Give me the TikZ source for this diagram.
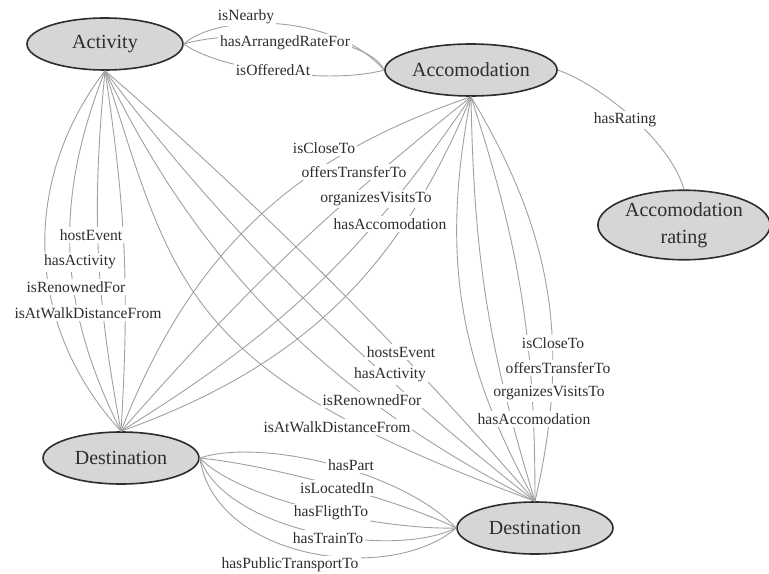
\documentclass[tikz,border=0pt]{standalone}
\usepackage{fontspec}
\setmainfont{Liberation Serif}
\usetikzlibrary{shapes.geometric}
\definecolor{conceptfill}{RGB}{214, 214, 214}
\definecolor{conceptline}{RGB}{45, 45, 45}
\definecolor{relcolor}{RGB}{160, 160, 160}
\definecolor{textcolor}{RGB}{45, 45, 45}
\tikzset{
	concept/.style={shape=ellipse, draw=conceptline, fill=conceptfill, line width=0.8pt, minimum width=78pt, minimum height=26pt, inner sep=1pt, text=textcolor, font=\fontsize{10}{13.5}\selectfont},
	rating/.style={concept, minimum width=85pt, minimum height=33pt, align=center},
	relation/.style={draw=relcolor, line width=0.45pt},
	annotation/.style={fill=white, inner xsep=1pt, inner ysep=1.2pt, text=textcolor, font=\fontsize{7.8}{9}\selectfont}
}

\begin{document}
\begin{tikzpicture}[x=0.5pt, y=-0.5pt]
		\useasboundingbox (0,0) rectangle (769,573);

		% Nodes
		\node (act) [concept] at (105,44) {Activity};
		\node (acc) [concept] at (471,70) {Accomodation};
		\node (rat) [rating] at (684,225) {Accomodation\\rating};
		\node (dstL) [concept] at (121,458) {Destination};
		\node (dstR) [concept] at (535,528) {Destination};

		% Relations
		\draw [relation] (act.east) .. controls (215,15) and (330,10) .. (acc.west);
		\draw [relation] (act.east) .. controls (230,30) and (365,30) .. (acc.west);
		\draw [relation] (act.east) .. controls (220,70) and (330,85) .. (acc.west);

		\draw [relation] (acc.east) .. controls (600,85) and (670,140) .. (rat.north);

		\path [relation]
		(act.south) edge [bend right=40] (dstL.north)
		(act.south) edge [bend right=24] (dstL.north)
		(act.south) edge [bend right=8] (dstL.north)
		(act.south) edge [bend left=6] (dstL.north);

		\path [relation]
		(acc.south) edge [bend right=25] (dstL.north)
		(acc.south) edge [bend right=5] (dstL.north)
		(acc.south) edge [bend left=12] (dstL.north)
		(acc.south) edge [bend left=24] (dstL.north);

		\draw [relation] (act.south) .. controls (175,290) and (185,373) .. (dstR.north);
		\draw [relation] (act.south) .. controls (190,246) and (310,388) .. (dstR.north);
		\draw [relation] (act.south) .. controls (228,235) and (365,367) .. (dstR.north);
		\draw [relation] (act.south) .. controls (257,202) and (413,359) .. (dstR.north);

		\path [relation]
		(acc.south) edge [bend right=20] (dstR.north)
		(acc.south) edge [bend right=8] (dstR.north)
		(acc.south) edge [bend left=9] (dstR.north)
		(acc.south) edge [bend left=22] (dstR.north);

		\draw [relation] (dstL.east) .. controls (260,438) and (400,470) .. (dstR.west);
		\draw [relation] (dstL.east) .. controls (270,465) and (400,500) .. (dstR.west);
		\draw [relation] (dstL.east) .. controls (240,500) and (380,530) .. (dstR.west);
		\draw [relation] (dstL.east) .. controls (225,530) and (390,560) .. (dstR.west);
		\draw [relation] (dstL.east) .. controls (215,560) and (390,585) .. (dstR.west);

		% Annotations
		\node (lNear) [annotation] at (246,17) {isNearby};
		\node (lRate) [annotation] at (285,43) {hasArrangedRateFor};
		\node (lOffer) [annotation] at (273,70) {isOfferedAt};

		\node (lRating) [annotation] at (625,120) {hasRating};

		\node (lHostA) [annotation] at (91,235) {hostEvent};
		\node (lActA) [annotation] at (80,262) {hasActivity};
		\node (lRenA) [annotation] at (76,287) {isRenownedFor};
		\node (lWalkA) [annotation] at (88,313) {isAtWalkDistanceFrom};

		\node (lCloseA) [annotation] at (324,148) {isCloseTo};
		\node (lTransA) [annotation] at (354,172) {offersTransferTo};
		\node (lVisitA) [annotation] at (376,199) {organizesVisitsTo};
		\node (lAccA) [annotation] at (390,224) {hasAccomodation};

		\node (lHostB) [annotation] at (401,352) {hostsEvent};
		\node (lActB) [annotation] at (390,375) {hasActivity};
		\node (lRenB) [annotation] at (372,400) {isRenownedFor};
		\node (lWalkB) [annotation] at (337,427) {isAtWalkDistanceFrom};

		\node (lCloseB) [annotation] at (553,343) {isCloseTo};
		\node (lTransB) [annotation] at (558,368) {offersTransferTo};
		\node (lVisitB) [annotation] at (549,393) {organizesVisitsTo};
		\node (lAccB) [annotation] at (534,419) {hasAccomodation};

		\node (lPart) [annotation] at (351,465) {hasPart};
		\node (lLoc) [annotation] at (337,488) {isLocatedIn};
		\node (lFlight) [annotation] at (331,513) {hasFligthTo};
		\node (lTrain) [annotation] at (328,538) {hasTrainTo};
		\node (lPublic) [annotation] at (290,565) {hasPublicTransportTo};

\end{tikzpicture}
\end{document}
